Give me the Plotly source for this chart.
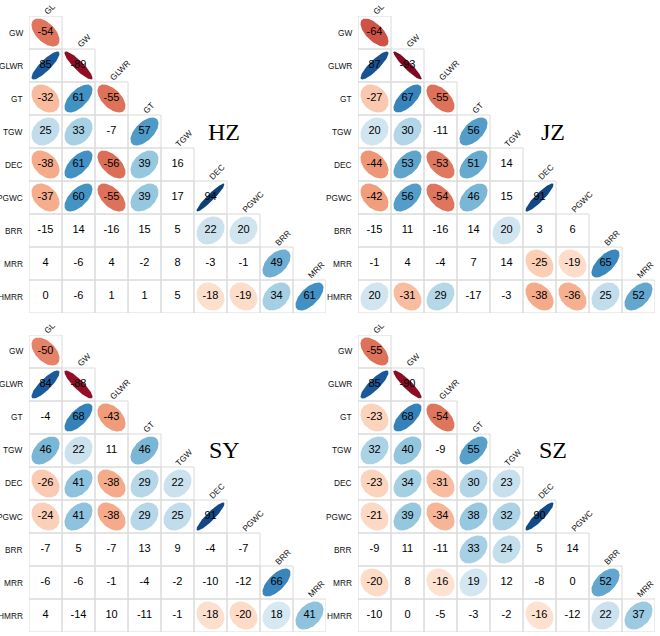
import numpy as np
import plotly.graph_objects as go

# ---------------- data ----------------
row_vars = ["GW", "GLWR", "GT", "TGW", "DEC", "PGWC", "BRR", "MRR", "HMRR"]
col_vars = ["GL", "GW", "GLWR", "GT", "TGW", "DEC", "PGWC", "BRR", "MRR"]
panels = ["HZ", "JZ", "SY", "SZ"]

# correlation x100, lower triangle, row by row
hz = [
    [-54],
    [85, -89],
    [-32, 61, -55],
    [25, 33, -7, 57],
    [-38, 61, -56, 39, 16],
    [-37, 60, -55, 39, 17, 94],
    [-15, 14, -16, 15, 5, 22, 20],
    [4, -6, 4, -2, 8, -3, -1, 49],
    [0, -6, 1, 1, 5, -18, -19, 34, 61],
]
jz = [
    [-64],
    [87, -93],
    [-27, 67, -55],
    [20, 30, -11, 56],
    [-44, 53, -53, 51, 14],
    [-42, 56, -54, 46, 15, 91],
    [-15, 11, -16, 14, 20, 3, 6],
    [-1, 4, -4, 7, 14, -25, -19, 65],
    [20, -31, 29, -17, -3, -38, -36, 25, 52],
]
sy = [
    [-50],
    [84, -88],
    [-4, 68, -43],
    [46, 22, 11, 46],
    [-26, 41, -38, 29, 22],
    [-24, 41, -38, 29, 25, 91],
    [-7, 5, -7, 13, 9, -4, -7],
    [-6, -6, -1, -4, -2, -10, -12, 66],
    [4, -14, 10, -11, -1, -18, -20, 18, 41],
]
sz = [
    [-55],
    [85, -90],
    [-23, 68, -54],
    [32, 40, -9, 55],
    [-23, 34, -31, 30, 23],
    [-21, 39, -34, 38, 32, 90],
    [-9, 11, -11, 33, 24, 5, 14],
    [-20, 8, -16, 19, 12, -8, 0, 52],
    [-10, 0, -5, -3, -2, -16, -12, 22, 37],
]
panel_values = [hz, jz, sy, sz]
# |r|*100 at or above which the correlation is significant (ellipse drawn)
sig_threshold = [18, 18, 15, 15]

# ---------------- style ----------------
W, H = 660, 636
CELL = 33
panel_left = [29, 358, 29, 358]
panel_top = [16, 16, 335, 335]
N = len(row_vars)

pal = ["#67001F", "#B2182B", "#D6604D", "#F4A582", "#FDDBC7", "#FFFFFF",
       "#D1E5F0", "#92C5DE", "#4393C3", "#2166AC", "#053061"]
pal_rgb = [tuple(int(h[i:i + 2], 16) for i in (1, 3, 5)) for h in pal]


def corr_color(r):
    pos = (r + 1) / 2 * (len(pal) - 1)
    i0 = int(np.floor(pos))
    i0 = min(max(i0, 0), len(pal) - 2)
    t = pos - i0
    c0, c1 = pal_rgb[i0], pal_rgb[i0 + 1]
    c = [round(c0[k] + (c1[k] - c0[k]) * t) for k in range(3)]
    return "rgb(%d,%d,%d)" % tuple(c)


arial = {"G": 778, "L": 556, "W": 944, "R": 722, "T": 611, "D": 722, "E": 667,
         "C": 722, "P": 667, "B": 667, "M": 833, "H": 722}
LAB_SIZE = 8.3
NUM_SIZE = 11
FONT = "Liberation Sans, Arial, sans-serif"

fig = go.Figure()
shapes = []
annotations = []
layout_axes = {}

kk = np.linspace(0, 2 * np.pi, 99)

for p, (name, vals) in enumerate(zip(panels, panel_values)):
    sfx = "" if p == 0 else str(p + 1)
    xa, ya = "x" + sfx, "y" + sfx
    left, top = panel_left[p], panel_top[p]
    layout_axes["xaxis" + sfx] = dict(
        domain=[left / W, (left + N * CELL) / W], range=[-0.5, N - 0.5],
        visible=False, fixedrange=True, anchor=ya)
    layout_axes["yaxis" + sfx] = dict(
        domain=[(H - top - N * CELL) / H, (H - top) / H], range=[N - 0.5, -0.5],
        visible=False, fixedrange=True, anchor=xa)

    tx, ty, tt = [], [], []
    for i, row in enumerate(vals):
        for j, v in enumerate(row):
            shapes.append(dict(type="rect", xref=xa, yref=ya,
                               x0=j - 0.5, x1=j + 0.5, y0=i - 0.5, y1=i + 0.5,
                               line=dict(color="#dadada", width=1), layer="below"))
            r = v / 100.0
            if abs(v) >= sig_threshold[p]:
                d = np.arccos(r)
                ex = 0.85 * np.cos(kk + d / 2) / 2
                ey = 0.85 * np.cos(kk - d / 2) / 2
                fig.add_trace(go.Scatter(
                    x=j + ex, y=i - ey, mode="lines", fill="toself",
                    fillcolor=corr_color(r), line=dict(width=0, color=corr_color(r)),
                    hoverinfo="skip", showlegend=False, xaxis=xa, yaxis=ya))
            tx.append(j)
            ty.append(i)
            tt.append(str(v))
    fig.add_trace(go.Scatter(
        x=tx, y=ty, text=tt, mode="text", textposition="middle center",
        textfont=dict(size=NUM_SIZE, color="black", family=FONT),
        hoverinfo="skip", showlegend=False, xaxis=xa, yaxis=ya, cliponaxis=False))

    # row labels
    for i, lab in enumerate(row_vars):
        annotations.append(dict(xref=xa, yref=ya, x=-0.5, y=i, text=lab,
                                xanchor="right", yanchor="middle", xshift=-4,
                                showarrow=False,
                                font=dict(size=LAB_SIZE, color="#111", family=FONT)))
    # column labels (rotated 45 degrees, starting above the top cell of the column)
    for j, lab in enumerate(col_vars):
        w = sum(arial[c] for c in lab) / 1000 * LAB_SIZE
        off = w / 2 * 0.7071
        annotations.append(dict(xref=xa, yref=ya, x=j, y=j - 0.5, text=lab,
                                textangle=-45, xanchor="center", yanchor="middle",
                                xshift=off, yshift=off + 3, showarrow=False,
                                font=dict(size=LAB_SIZE, color="#111", family=FONT)))
    # panel label
    annotations.append(dict(xref=xa, yref=ya, x=5.42, y=3.0, text=name,
                            xanchor="center", yanchor="middle", showarrow=False,
                            font=dict(size=24, color="black",
                                      family="Liberation Serif, Times New Roman, serif")))

fig.update_layout(
    width=W, height=H, autosize=False,
    margin=dict(l=0, r=0, t=0, b=0),
    paper_bgcolor="white", plot_bgcolor="rgba(0,0,0,0)",
    showlegend=False, shapes=shapes, annotations=annotations,
    **layout_axes)

fig.write_html("out.html",
               config={"displayModeBar": False, "staticPlot": True},
               post_script="document.body.style.margin='0';"
                           "document.body.style.overflow='hidden';")
